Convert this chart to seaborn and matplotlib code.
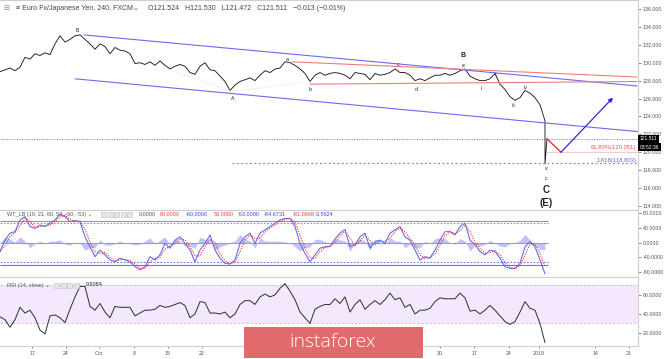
import numpy as np
import pandas as pd
import matplotlib
matplotlib.use("Agg")
import matplotlib.pyplot as plt
import matplotlib.transforms as mtrans
from matplotlib.patches import FancyBboxPatch
import seaborn as sns

# ---- data (one value every ~3 bars of the 4h chart) ----
price = [129.0, 129.2, 129.4, 129.1, 129.5, 130.6, 130.4, 131.0, 130.8, 131.1,
         130.9, 132.1, 133.0, 132.3, 132.6, 133.0, 133.1, 132.6, 132.1, 131.5,
         132.1, 131.8, 131.0, 131.7, 131.4, 131.3, 131.0, 129.9, 130.0, 129.8,
         130.1, 129.7, 130.2, 129.7, 129.3, 129.6, 129.8, 129.6, 128.9, 128.7,
         129.6, 130.0, 129.2, 129.1, 128.5, 127.9, 126.9, 127.5, 127.9, 128.1,
         128.3, 128.0, 128.6, 129.1, 128.9, 129.3, 129.4, 130.1, 130.0, 129.7,
         129.3, 128.8, 127.9, 128.6, 128.9, 128.6, 128.8, 128.9, 128.8, 128.6,
         128.2, 128.9, 128.8, 128.7, 128.1, 128.8, 128.6, 128.7, 128.9, 129.3,
         128.9, 128.9, 128.6, 128.0, 128.2, 128.0, 128.3, 128.6, 128.6, 128.8,
         128.6, 128.8, 129.1, 129.3, 128.5, 128.2, 128.0, 128.0, 128.2, 128.8,
         127.6, 127.0, 126.2, 125.8, 126.1, 126.9, 126.6, 126.1, 125.3, 123.5]
crash_low = 118.7
last_close = 121.511

wt1 = [-24, 7, 26, 30, 62, 71, 44, 39, 48, 44,
       53, 62, 78, 71, 57, 60, 57, 16, -11, -38,
       -20, -33, -47, -52, -42, -47, -52, -65, -74, -65,
       -38, -47, -33, -2, -15, 7, 16, -2, -20, -52,
       -20, -2, 21, -20, -42, -56, -58, -47, -2, 16,
       26, -2, 26, 35, 44, 53, 62, 66, 66, 44,
       -2, -29, -52, -33, -15, -11, -10, 10, 26, 36,
       -11, -6, 16, 26, -15, 3, 7, -2, 26, 35,
       44, 16, 7, -20, -47, -38, -42, -20, 7, 30,
       30, 21, 44, 53, 7, -6, -24, -33, -20, -24,
       -42, -65, -70, -70, -56, -11, 3, -11, -47, -84.67]

rsi = [37, 34, 26, 34, 47, 41, 44, 36, 23, 19,
       38, 39, 36, 31, 45, 58, 69, 69, 48, 44,
       51, 42, 36, 48, 47, 47, 47, 38, 41, 44,
       44, 45, 49, 47, 48, 50, 52, 49, 36, 40,
       53, 52, 41, 41, 40, 42, 36, 40, 50, 54,
       54, 50, 58, 61, 58, 60, 67, 72, 64, 55,
       42, 36, 30, 45, 48, 50, 50, 56, 51, 58,
       42, 50, 55, 45, 50, 54, 50, 55, 62, 55,
       57, 47, 50, 40, 44, 44, 46, 53, 57, 56,
       56, 56, 62, 57, 43, 44, 40, 44, 49, 44,
       38, 32, 29, 32, 42, 53, 46, 44, 30, 9.9]

date_labels = ["17", "24", "Oct", "8", "15", "22", "10", "17", "24", "2019", "14", "21"]
date_pos = [6.4, 13.2, 19.8, 26.8, 33.6, 40.4, 88.0, 94.8, 101.8, 107.8, 119.0, 125.8]

wave_labels = [("B", 15.4, 133.6), ("A", 46.6, 126.0), ("a", 57.4, 130.4),
               ("b", 62.0, 127.0), ("c", 79.6, 129.8), ("d", 83.2, 127.0),
               ("e", 92.6, 129.7), ("i", 96.2, 127.1), ("ii", 99.2, 128.7),
               ("iii", 102.6, 125.2), ("iv", 105.2, 127.2), ("v", 109.2, 118.2),
               ("c", 109.2, 117.1)]
big_labels = [("B", 92.6, 130.8, 5), ("C", 109.2, 115.8, 7), ("(E)", 109.2, 114.3, 7)]

# trend lines: (x0, y0, x1, y1)
blue_channel = [(16.8, 133.1, 127.4, 127.4), (15.0, 128.2, 127.6, 122.3)]
red_channel = [(58.4, 130.1, 127.4, 128.4), (62.0, 127.6, 127.4, 127.9)]
pivot_path_x = [32.6, 46.4, 62.0]
pivot_path_y = [129.4, 126.8, 127.9]
forecast_x = [109.4, 112.2, 122.6]
forecast_y = [121.5, 120.0, 126.1]
fib_618 = 120.051
ext_1618 = 118.803

# ---- frames ----
n = len(price)
bar = np.arange(n)
px_x = list(bar) + [bar[-1], bar[-1] + 0.4]
px_y = price + [crash_low, last_close]
df_p = pd.DataFrame({"bar": px_x, "price": px_y})

df_w = pd.DataFrame({"bar": bar, "wt1": wt1})
df_w["wt2"] = df_w["wt1"].rolling(2, min_periods=1).mean()
df_w["hist"] = df_w["wt1"] - df_w["wt2"]
df_r = pd.DataFrame({"bar": bar, "rsi": rsi})

sns.set_style("white")
plt.rcParams["font.family"] = ["Liberation Sans", "DejaVu Sans"]

W, H = 665, 359
fig = plt.figure(figsize=(W / 100, H / 100), dpi=100)
right = 638 / W
ax_p = fig.add_axes([0.0, 1 - 210 / H, right, 210 / H])
ax_w = fig.add_axes([0.0, 1 - 277 / H, right, 67 / H])
ax_r = fig.add_axes([0.0, 1 - 346 / H, right, 69 / H])

grid_c = "#cfcfcf"
tick_c = "#555555"

# ---- price panel ----
sns.lineplot(data=df_p, x="bar", y="price", ax=ax_p, color="#1a1a1a", lw=0.65,
             estimator=None, sort=False)
ax_p.set_ylim(113.55, 137.0)
ax_p.set_yticks(np.arange(114, 137, 2))
ax_p.set_yticklabels([f"{v:.3f}" for v in np.arange(114, 137, 2)])
for x0, y0, x1, y1 in blue_channel:
    ax_p.plot([x0, x1], [y0, y1], color="#6b6bf2", lw=0.8)
for x0, y0, x1, y1 in red_channel:
    ax_p.plot([x0, x1], [y0, y1], color="#f27a7a", lw=0.8)
ax_p.plot(pivot_path_x, pivot_path_y, color="#dcdcdc", lw=0.5, ls=(0, (2, 2)))
ax_p.axhline(last_close, color="#777777", lw=0.6, ls=(0, (1, 1)))
ax_p.plot([pivot_path_x[1], 127.6], [ext_1618, ext_1618], color="#8080f0", lw=0.9, ls=(0, (1.5, 2)))
ax_p.plot([forecast_x[0], 127.6], [fib_618, fib_618], color="#f5b5b5", lw=0.5)
ax_p.plot(forecast_x[:2], forecast_y[:2], color="#e02020", lw=0.9)
ax_p.annotate("", xy=(forecast_x[2], forecast_y[2]), xytext=(forecast_x[1], forecast_y[1]),
              arrowprops=dict(arrowstyle="-|>", color="#2a2ae0", lw=0.9,
                              mutation_scale=6, shrinkA=0, shrinkB=0))
ax_p.text(127.2, fib_618 + 0.25, "61.80%(120.051)", color="#f05050", fontsize=4.2,
          ha="right", va="bottom")
ax_p.text(127.2, ext_1618 + 0.05, "1.618(118.803)", color="#6060e8", fontsize=4.2,
          ha="right", va="bottom")
for lab, x, y in wave_labels:
    ax_p.text(x, y, lab, fontsize=3.8, ha="center", va="center", color="#222222")
for lab, x, y, fs in big_labels:
    ax_p.text(x, y, lab, fontsize=fs, ha="center", va="center", color="#222222",
              fontweight="bold")

tr = mtrans.blended_transform_factory(ax_p.transAxes, ax_p.transData)
ax_p.text(1.003, last_close, "121.511", transform=tr, fontsize=3.6, color="white",
          va="center", ha="left", clip_on=False,
          bbox=dict(facecolor="black", edgecolor="none", pad=1.2))
ax_p.text(1.003, 120.56, "03:52:36", transform=tr, fontsize=3.6, color="white",
          va="center", ha="left", clip_on=False,
          bbox=dict(facecolor="black", edgecolor="none", pad=1.2))

# ---- WT_LB panel ----
end = n - 1 + 0.6
ax_w.fill_between(df_w["bar"], 0, df_w["hist"], color="#c4c4f6", lw=0)
ax_w.hlines([60], 0, end, color="#f07070", lw=0.8)
ax_w.hlines([53], 0, end, color="#f07070", lw=0.8, ls=(0, (1.5, 1.5)))
ax_w.hlines([-60], 0, end, color="#7070f0", lw=0.8)
ax_w.hlines([-53], 0, end, color="#7070f0", lw=0.8, ls=(0, (1.5, 1.5)))
ax_w.hlines([0], 0, end, color="#9a9ad0", lw=0.8)
sns.lineplot(data=df_w, x="bar", y="wt1", ax=ax_w, color="#6a6af0", lw=0.8)
sns.lineplot(data=df_w, x="bar", y="wt2", ax=ax_w, color="#ee3030", lw=0.8,
             linestyle=(0, (1, 1.2)))
ax_w.set_ylim(-93.3, 89.0)
ax_w.set_yticks([-80, -40, 0, 40, 80])
ax_w.set_yticklabels([f"{v:.4f}" for v in [-80, -40, 0, 40, 80]])

# ---- RSI panel ----
ax_r.axhspan(30, 70, color="#f3e8fd", lw=0)
ax_r.axhline(70, color="#c8b8dc", lw=0.6, ls=(0, (3, 2)))
ax_r.axhline(30, color="#c8b8dc", lw=0.6, ls=(0, (3, 2)))
sns.lineplot(data=df_r, x="bar", y="rsi", ax=ax_r, color="#2d2d2d", lw=0.7)
ax_r.set_ylim(6.3, 78.9)
ax_r.set_yticks([20, 40, 60])
ax_r.set_yticklabels([f"{v:.4f}" for v in [20, 40, 60]])

for ax in (ax_p, ax_w, ax_r):
    ax.set_xlim(0, 127.6)
    ax.set_xlabel("")
    ax.set_ylabel("")
    for s in ax.spines.values():
        s.set_color(grid_c)
        s.set_linewidth(0.8)
    ax.spines["left"].set_visible(False)
    ax.yaxis.tick_right()
    ax.tick_params(axis="y", labelsize=3.8, colors=tick_c, length=2, width=0.5, pad=1.5)
    ax.tick_params(axis="x", bottom=False, labelbottom=False)
ax_p.spines["bottom"].set_visible(False)
ax_w.spines["bottom"].set_visible(False)

ax_r.set_xticks(date_pos)
ax_r.set_xticklabels(date_labels)
ax_r.tick_params(axis="x", bottom=True, labelbottom=True, labelsize=3.8,
                 colors=tick_c, length=1.5, width=0.5, pad=2)

# ---- headers ----
def ftxt(x, y, s, **kw):
    fig.text(x / W, 1 - y / H, s, va="center", ha="left", **kw)

ftxt(3, 8, "\u229f", fontsize=5, color="#888888", family=["DejaVu Sans"])
ftxt(16, 8, "\u2261 Euro Fx/Japanese Yen, 240, FXCM\u2304", fontsize=5, color="#444444")
ftxt(148, 8, "O121.524   H121.530   L121.472   C121.511   \u22120.013 (\u22120.01%)",
     fontsize=5, color="#444444")

ftxt(7, 215, "WT_LB (10, 21, 60, 53, -60, -53) \u2304", fontsize=4, color="#555555")
wt_vals = [("0.0000", "#555555", 139), ("60.0000", "#f04040", 160),
           ("-60.0000", "#4040f0", 186), ("53.0000", "#f04040", 214),
           ("-53.0000", "#4040f0", 238), ("-84.6731", "#4040f0", 264),
           ("-81.0808", "#f04040", 293), ("-3.5924", "#4040f0", 315)]
for s, c, x in wt_vals:
    ftxt(x, 215, s, fontsize=4, color=c)
ftxt(7, 285, "RSI (14, close) \u2304", fontsize=4, color="#555555")
ftxt(86, 285, "9.9084", fontsize=4, color="#222222")
for x0, y0, k in [(101, 215, 5), (54, 285, 4)]:
    for j in range(k):
        fig.add_artist(plt.Rectangle(((x0 + j * 6.5) / W, 1 - (y0 + 2.5) / H), 5 / W, 5 / H,
                                     facecolor="#e6e6e6", edgecolor="#bdbdbd", lw=0.4))

# ---- logo ----
logo = FancyBboxPatch((244 / W, 1 / H), 179 / W, 31 / H, boxstyle="square,pad=0",
                      transform=fig.transFigure, facecolor="#e26a6c", edgecolor="none",
                      zorder=20)
fig.add_artist(logo)
fig.text(333 / W, 1 - 342 / H, "instaforex", color="white", fontsize=14,
         ha="center", va="center", family=["Open Sans", "DejaVu Sans"],
         fontweight="light", zorder=21)

fig.savefig("out.png", dpi=100, facecolor="white")
